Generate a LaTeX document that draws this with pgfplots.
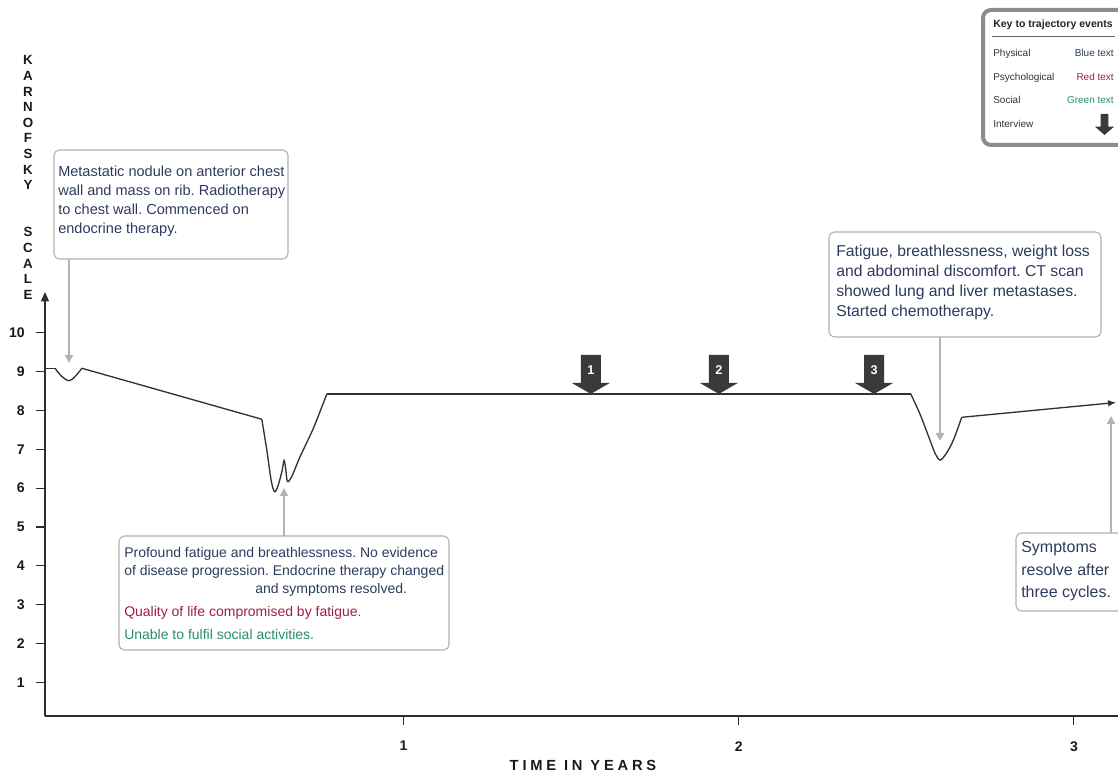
\documentclass[border=0pt]{standalone}
\usepackage{fontspec}
\setmainfont{Liberation Sans}
\usepackage{pgfplots}
\pgfplotsset{compat=1.18}
\usetikzlibrary{arrows.meta}
\frenchspacing

\definecolor{navy}{RGB}{44,58,92}
\definecolor{wine}{RGB}{160,30,62}
\definecolor{teal2}{RGB}{40,140,110}
\definecolor{curvec}{RGB}{50,50,50}
\definecolor{axisc}{RGB}{45,45,45}
\definecolor{boxc}{RGB}{175,175,175}
\definecolor{ptrc}{RGB}{180,180,180}
\definecolor{ivc}{RGB}{58,58,58}
\definecolor{keyc}{RGB}{140,140,140}

\newcommand\boxfont{\fontsize{10}{12}\selectfont}
\newcommand\keyfont{\fontsize{7.5}{9}\selectfont}
% one line of annotation text: x, baseline y (pixels), colour, text
\newcommand\bline[4]{\node[anchor=base west, inner sep=0pt, text=#3, font=\boxfont] at (#1,#2) {#4};}
% interview marker: big down arrow whose tip sits on the curve
\newcommand\interview[2]{%
  \fill[ivc] (axis cs:#1,8.42) -- ++(-14.25pt,8.25pt) -- ++(6.75pt,0pt) -- ++(0pt,21pt)
     -- ++(15pt,0pt) -- ++(0pt,-21pt) -- ++(6.75pt,0pt) -- cycle;
  \node[text=white, font=\bfseries\fontsize{9.5}{10}\selectfont] at ([yshift=18pt]axis cs:#1,8.42) {#2};}

\begin{document}
\begin{tikzpicture}
\begin{axis}[
  at={(0,0)}, anchor=south west,
  scale only axis, width=804.75pt, height=318pt,
  xmin=-0.069, xmax=3.1315, ymin=0.144, ymax=11.04,
  axis lines=left,
  axis line style={draw=axisc, line width=1pt},
  x axis line style={-},
  y axis line style={-{Triangle[width=6pt,length=7pt]}},
  xtick={1,2,3}, ytick={1,2,3,4,5,6,7,8,9,10},
  tick align=outside, major tick length=6.75pt,
  tick style={draw=axisc, line width=0.8pt},
  ticklabel style={font=\bfseries\fontsize{10.5}{12}\selectfont, text=black!90},
  /pgf/number format/assume math mode=true,
  yticklabel style={xshift=-5pt},
  xticklabel style={yshift=-8.7pt},
  clip=false,
  curve/.style={draw=curvec, line width=1pt, no marks},
]
\addplot[curve, sharp plot] coordinates {(-0.069,9.08) (-0.039,9.08)};
\addplot[curve, smooth, tension=0.6] coordinates {
  (-0.039,9.08) (-0.020,8.88) (0.003,8.76) (0.022,8.88) (0.041,9.08)};
\addplot[curve, sharp plot] coordinates {(0.041,9.08) (0.5777,7.77)};
\addplot[curve, smooth, tension=0.5] coordinates {
  (0.5777,7.77) (0.5926,6.98) (0.6054,6.21) (0.6153,5.91) (0.6254,6.04)
  (0.6374,6.42) (0.6442,6.71) (0.6493,6.47) (0.6541,6.17) (0.6672,6.30)
  (0.6919,6.81) (0.7316,7.54) (0.7716,8.42)};
\addplot[curve, sharp plot] coordinates {(0.7716,8.42) (2.5133,8.42)};
\addplot[curve, smooth, tension=0.5] coordinates {
  (2.5133,8.42) (2.5410,7.90) (2.5708,7.23) (2.5857,6.90) (2.6006,6.72)
  (2.6185,6.88) (2.6403,7.23) (2.6654,7.82)};
\addplot[curve, sharp plot, -{Latex[length=6pt,width=5pt]}] coordinates {(2.6654,7.82) (3.1256,8.20)};

\interview{1.559}{1}
\interview{1.941}{2}
\interview{2.404}{3}
\end{axis}

\begin{scope}[x=0.75pt, y=-0.75pt, shift={(-33.75pt,537pt)}]
  % y label, stacked letters
  \foreach \L [count=\i] in {K,A,R,N,O,F,S,K,Y}
    \node[anchor=base, inner sep=0pt, font=\bfseries\fontsize{10}{12}\selectfont, text=black!90] at (28,{65+15.6*(\i-1)}) {\L};
  \foreach \L [count=\i] in {S,C,A,L,E}
    \node[anchor=base, inner sep=0pt, font=\bfseries\fontsize{10}{12}\selectfont, text=black!90] at (28,{237+15.6*(\i-1)}) {\L};
  % x label
  \node[anchor=base, inner sep=0pt, font=\bfseries\fontsize{11}{13}\selectfont\addfontfeatures{LetterSpace=26}, text=black!90] at (583,771) {TIME IN YEARS};

  % box 1
  \renewcommand\boxfont{\fontsize{10.9}{13}\selectfont}
  \draw[boxc, line width=0.8pt, rounded corners=4pt] (54,150) rectangle (288,259);
  \bline{58}{177}{navy}{Metastatic nodule on anterior chest}
  \bline{58}{196}{navy}{wall and mass on rib. Radiotherapy}
  \bline{58}{215}{navy}{to chest wall. Commenced on}
  \bline{58}{234}{navy}{endocrine therapy.}
  \draw[ptrc, line width=1.5pt, -{Triangle[width=6pt,length=6pt]}] (69,259) -- (69,363);

  % box 2
  \renewcommand\boxfont{\fontsize{10.5}{12.5}\selectfont}
  \draw[boxc, line width=0.8pt, rounded corners=4pt] (119,536) rectangle (449,650);
  \bline{124}{558}{navy}{Profound fatigue and breathlessness. No evidence}
  \bline{124}{576}{navy}{of disease progression. Endocrine therapy changed}
  \bline{255}{594}{navy}{and symptoms resolved.}
  \bline{124}{617}{wine}{Quality of life compromised by fatigue.}
  \bline{124}{640}{teal2}{Unable to fulfil social activities.}
  \draw[ptrc, line width=1.5pt, -{Triangle[width=6pt,length=6pt]}] (284,536) -- (284,488);

  % box 3
  \renewcommand\boxfont{\fontsize{11.8}{14}\selectfont}
  \draw[boxc, line width=0.8pt, rounded corners=4pt] (829,232) rectangle (1101,337);
  \bline{836}{257}{navy}{Fatigue, breathlessness, weight loss}
  \bline{836}{277}{navy}{and abdominal discomfort. CT scan}
  \bline{836}{297}{navy}{showed lung and liver metastases.}
  \bline{836}{317}{navy}{Started chemotherapy.}
  \draw[ptrc, line width=1.5pt, -{Triangle[width=6pt,length=6pt]}] (940,337) -- (940,441);

  % box 4
  \renewcommand\boxfont{\fontsize{12}{14}\selectfont}
  \draw[boxc, line width=0.8pt, rounded corners=4pt] (1016,533) rectangle (1135,611);
  \bline{1021}{553}{navy}{Symptoms}
  \bline{1021}{576}{navy}{resolve after}
  \bline{1021}{598}{navy}{three cycles.}
  \draw[ptrc, line width=1.5pt, -{Triangle[width=6pt,length=6pt]}] (1111,533) -- (1111,416);

  % key
  \draw[keyc, line width=3pt, rounded corners=6pt, fill=white] (983,10) rectangle (1135,145);
  \node[anchor=base west, inner sep=0pt, font=\bfseries\fontsize{7.9}{9}\selectfont, text=black!85] at (993,28) {Key to trajectory events};
  \draw[black!60, line width=0.5pt] (992,36) -- (1115,36);
  \foreach \t/\y in {Physical/57, Psychological/81, Social/104, Interview/128}
    \node[anchor=base west, inner sep=0pt, font=\keyfont, text=black!80] at (993,\y) {\t};
  \node[anchor=base east, inner sep=0pt, font=\keyfont, text=navy] at (1114,57) {Blue text};
  \node[anchor=base east, inner sep=0pt, font=\keyfont, text=wine] at (1114,81) {Red text};
  \node[anchor=base east, inner sep=0pt, font=\keyfont, text=teal2] at (1114,104) {Green text};
  \fill[ivc] (1104.5,135) -- (1095,126.7) -- (1100.7,126.7) -- (1100.7,114) -- (1108.3,114) -- (1108.3,126.7) -- (1114,126.7) -- cycle;

  \pgfresetboundingbox
  \path[use as bounding box] (0,0) rectangle (1118,774);
\end{scope}
\end{tikzpicture}
\end{document}
